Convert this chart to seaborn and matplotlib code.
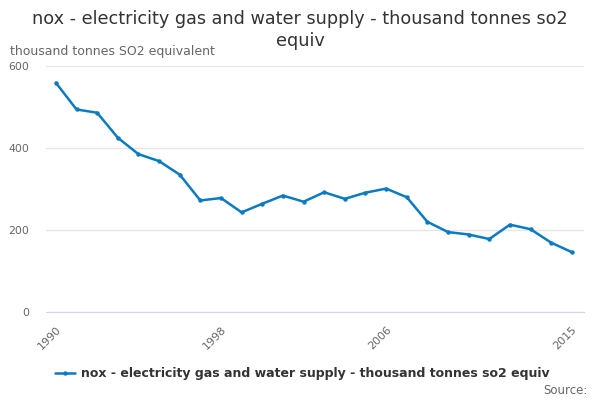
import matplotlib
matplotlib.use("Agg")
import matplotlib.pyplot as plt
import seaborn as sns
import pandas as pd

# data
years = list(range(1990, 2016))
values = [559, 494, 486, 425, 385, 368, 335, 272, 278, 243, 264, 284, 269,
          292, 276, 291, 301, 280, 220, 195, 189, 178, 213, 202, 169, 146]
series_name = "nox - electricity gas and water supply - thousand tonnes so2 equiv"
title_lines = ["nox - electricity gas and water supply - thousand tonnes so2", "equiv"]
y_title = "thousand tonnes SO2 equivalent"
y_ticks = [0, 200, 400, 600]
x_labels = [1990, 1998, 2006, 2015]
x_minor = list(range(1990, 2014, 2)) + [2015]

df = pd.DataFrame({"year": years, "value": values})

sns.set_style("white")
plt.rcParams["font.family"] = ["DejaVu Sans"]

fig = plt.figure(figsize=(6, 4), dpi=100)
ax = fig.add_axes([0.077, 0.22, 0.896, 0.615])

color = "#0b7bc1"
sns.lineplot(data=df, x="year", y="value", ax=ax, color=color, linewidth=1.8,
             marker="o", markersize=3.2, markeredgewidth=0, label=series_name)

ax.set_ylim(0, 600)
ax.set_xlim(1989.53, 2015.58)
ax.set_yticks(y_ticks)
ax.set_yticklabels([str(v) for v in y_ticks], color="#666666", fontsize=7.8)
ax.yaxis.grid(True, color="#e6e6e6", linewidth=0.9)
ax.set_axisbelow(True)
ax.tick_params(axis="y", length=0, pad=12)

ax.set_xticks(x_minor)
ax.set_xticklabels([str(y) if y in x_labels else "" for y in x_minor],
                   rotation=45, ha="right", rotation_mode="anchor",
                   color="#666666", fontsize=8)
ax.tick_params(axis="x", length=7, color="#ccd6eb", width=0.9, pad=2)

for s in ["top", "right", "left"]:
    ax.spines[s].set_visible(False)
ax.spines["bottom"].set_color("#ccd6eb")
ax.set_xlabel("")
ax.set_ylabel("")

# title drawn as two lines so the second line does not cover the axis title
fig.text(0.5, 0.952, title_lines[0], ha="center", va="center", fontsize=12.7,
         color="#333333")
fig.text(0.5, 0.898, title_lines[1], ha="center", va="center", fontsize=12.7,
         color="#333333")
fig.text(0.017, 0.87, y_title, ha="left", va="center", fontsize=9,
         color="#666666")

leg = ax.legend(loc="center", bbox_to_anchor=(0.476, -0.252), frameon=False,
                handlelength=1.6, handletextpad=0.5, prop={"weight": "bold", "size": 9.0})
for t in leg.get_texts():
    t.set_color("#333333")

fig.text(0.98, 0.025, "Source:", ha="right", va="center", fontsize=8.5,
         color="#666666")

fig.savefig("out.png", dpi=100)
